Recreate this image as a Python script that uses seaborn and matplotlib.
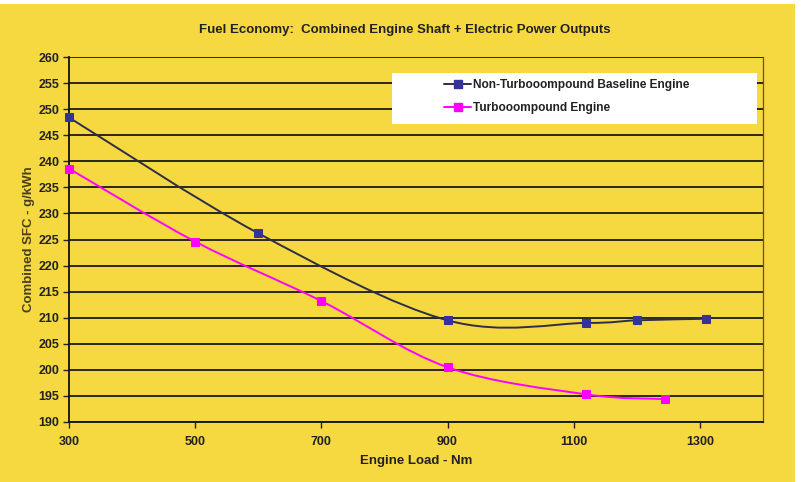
import matplotlib
matplotlib.use("Agg")
import matplotlib.pyplot as plt
from matplotlib.path import Path
from matplotlib.patches import PathPatch, Rectangle
from matplotlib.lines import Line2D
import seaborn as sns
import pandas as pd
import numpy as np

# ---- data ----
base_load = [300, 600, 900, 1120, 1200, 1310]
base_sfc = [248.4, 226.2, 209.5, 209.0, 209.5, 209.8]
turbo_load = [300, 500, 700, 900, 1120, 1245]
turbo_sfc = [238.6, 224.6, 213.2, 200.5, 195.3, 194.4]
series_names = ["Non-Turbooompound Baseline Engine", "Turbooompound Engine"]
x_ticks = [300, 500, 700, 900, 1100, 1300]
y_ticks = list(range(190, 261, 5))

YELLOW = "#F6D840"
NAVY = "#333399"
NAVY_LINE = "#2E2E48"
MAGENTA = "#FF00FF"

sns.set_theme(style="white")
plt.rcParams["font.family"] = ["Liberation Sans", "DejaVu Sans"]
plt.rcParams["font.weight"] = "bold"

fig = plt.figure(figsize=(8.09, 4.82), dpi=100)
fig.patch.set_facecolor("white")
fig.patches.append(Rectangle((0, 0), 795 / 809, 1 - 4 / 482, transform=fig.transFigure,
                             facecolor=YELLOW, edgecolor="none", zorder=-10))
ax = fig.add_axes([69 / 809, 1 - 422 / 482, (763 - 69) / 809, (422 - 57) / 482])
ax.set_facecolor(YELLOW)


def smooth_path(xs, ys):
    pts = np.column_stack([xs, ys]).astype(float)
    n = len(pts)
    verts = [pts[0]]
    codes = [Path.MOVETO]
    for i in range(n - 1):
        p0 = pts[i - 1] if i > 0 else pts[i]
        p1 = pts[i]
        p2 = pts[i + 1]
        p3 = pts[i + 2] if i + 2 < n else pts[i + 1]
        c1 = p1 + (p2 - p0) / 6.0
        c2 = p2 - (p3 - p1) / 6.0
        verts += [c1, c2, p2]
        codes += [Path.CURVE4] * 3
    return Path(verts, codes)


ax.add_patch(PathPatch(smooth_path(base_load, base_sfc), facecolor="none",
                       edgecolor=NAVY_LINE, lw=1.4, zorder=3))
ax.add_patch(PathPatch(smooth_path(turbo_load, turbo_sfc), facecolor="none",
                       edgecolor=MAGENTA, lw=1.4, zorder=3))

df_b = pd.DataFrame({"load": base_load, "sfc": base_sfc})
df_t = pd.DataFrame({"load": turbo_load, "sfc": turbo_sfc})
sns.lineplot(data=df_b, x="load", y="sfc", ax=ax, marker="s", linestyle="",
             color=NAVY, markersize=6, markeredgecolor=NAVY, estimator=None, sort=False,
             zorder=4, clip_on=False)
sns.lineplot(data=df_t, x="load", y="sfc", ax=ax, marker="s", linestyle="",
             color=MAGENTA, markersize=6, markeredgecolor=MAGENTA, estimator=None, sort=False,
             zorder=4, clip_on=False)

ax.set_xlim(300, 1400)
ax.set_ylim(190, 260)
ax.set_xticks(x_ticks)
ax.set_yticks(y_ticks)
ax.yaxis.grid(True, color="#1a1a1a", lw=1.3)
ax.xaxis.grid(False)
ax.set_axisbelow(True)
for s in ["left", "bottom"]:
    ax.spines[s].set_color("#111111")
    ax.spines[s].set_linewidth(1.3)
ax.spines["top"].set_visible(False)
ax.spines["right"].set_color("#555544")
ax.spines["right"].set_linewidth(0.9)
ax.tick_params(axis="both", labelsize=9, colors="#222222", length=4, width=1,
               direction="out", pad=3)
ax.tick_params(axis="x", bottom=True, pad=6)
ax.tick_params(axis="y", left=True)
for lab in ax.get_xticklabels() + ax.get_yticklabels():
    lab.set_fontweight("bold")

ax.set_xlabel("Engine Load - Nm", fontsize=9.5, fontweight="bold", color="#222222", labelpad=5)
ax.set_ylabel("Combined SFC - g/kWh", fontsize=9.5, fontweight="bold", color="#4a3f1a", labelpad=2)
fig.text(405 / 809, 1 - 30 / 482, "Fuel Economy:  Combined Engine Shaft + Electric Power Outputs",
         ha="center", va="center", fontsize=9.5, fontweight="bold", color="#222222")

# legend box
ax.add_patch(Rectangle(((392 - 69) / 694, 1 - (124 - 57) / 365),
                       (757 - 392) / 694, (124 - 73) / 365,
                       transform=ax.transAxes, facecolor="white", edgecolor="none", zorder=5))
handles = [Line2D([], [], color=NAVY_LINE, lw=1.4, marker="s", markersize=6,
                  markerfacecolor=NAVY, markeredgecolor=NAVY),
           Line2D([], [], color=MAGENTA, lw=1.4, marker="s", markersize=6,
                  markerfacecolor=MAGENTA, markeredgecolor=MAGENTA)]
leg = ax.legend(handles, series_names, loc="upper left",
                bbox_to_anchor=((444 - 69) / 694, 1 - (79 - 57) / 365),
                frameon=False, fontsize=8.6, handlelength=2.3, handletextpad=0.15,
                labelspacing=0.95, borderpad=0, borderaxespad=0)
leg.set_zorder(6)
for t in leg.get_texts():
    t.set_fontweight("bold")
    t.set_color("#222222")

fig.savefig("out.png", dpi=100, facecolor=fig.get_facecolor())
